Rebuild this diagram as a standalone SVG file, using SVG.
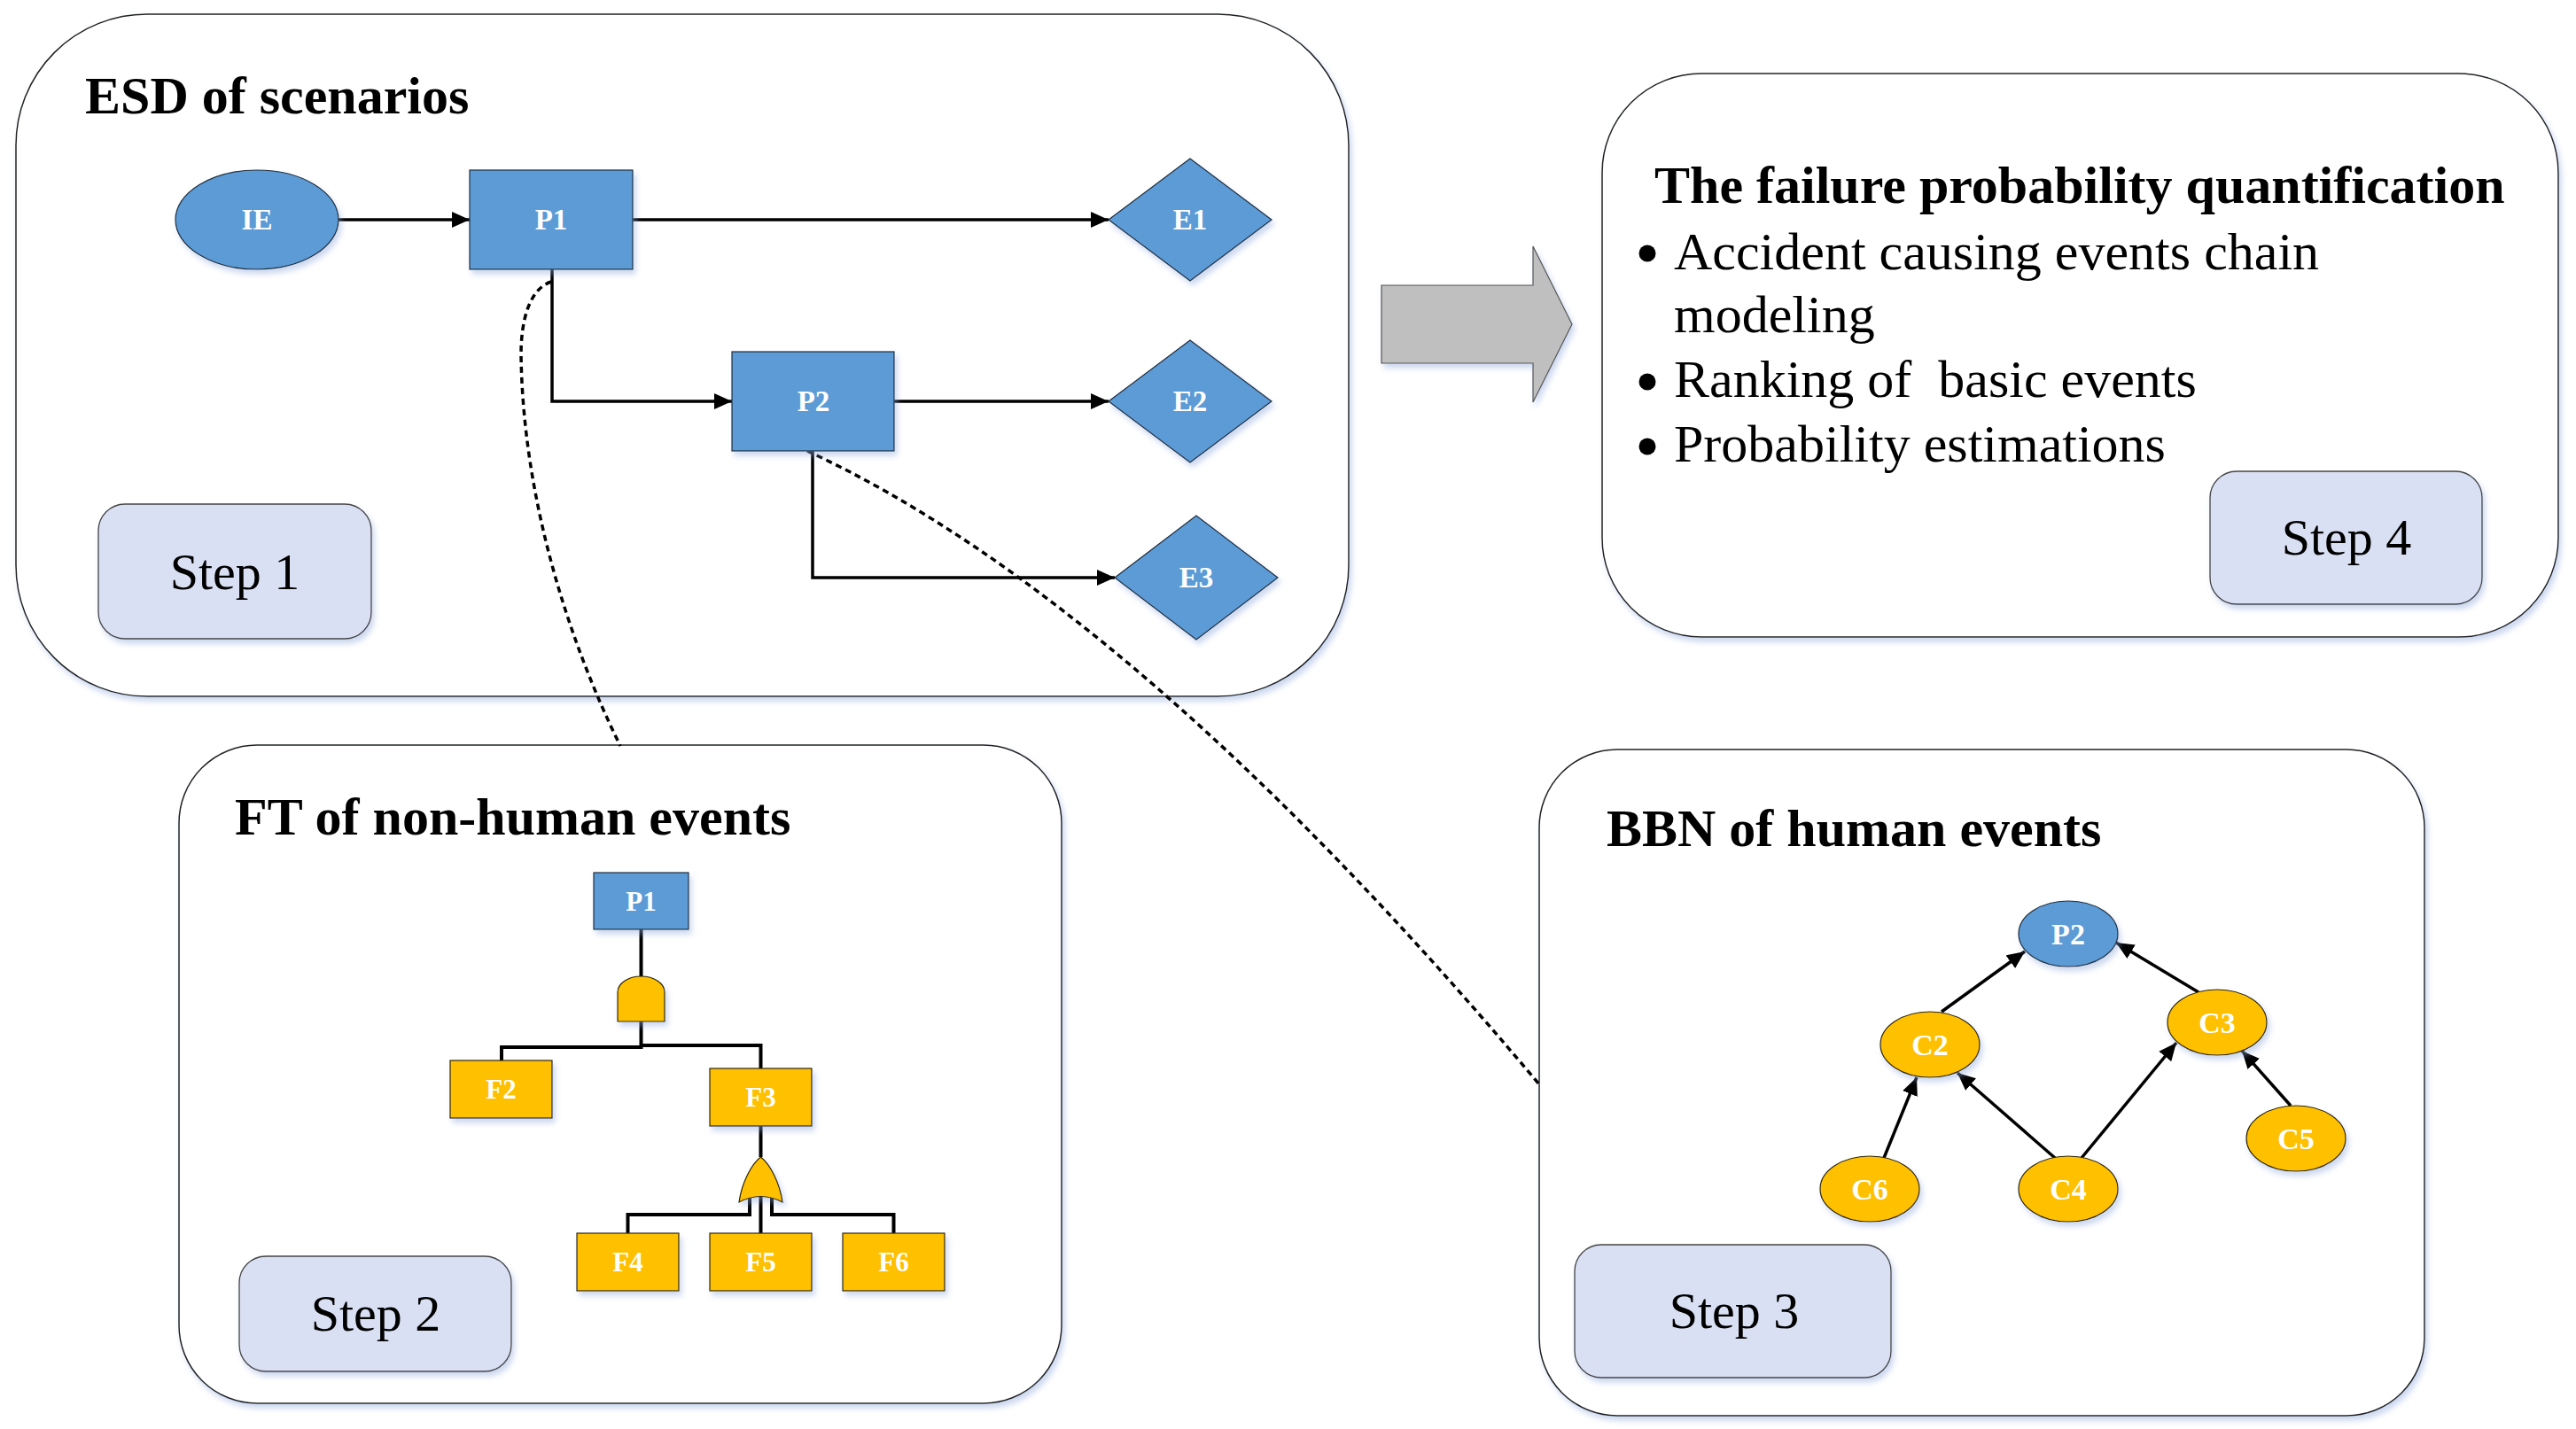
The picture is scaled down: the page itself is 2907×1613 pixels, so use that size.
<svg xmlns="http://www.w3.org/2000/svg" width="2907" height="1613" viewBox="0 0 2907 1613">
<defs>
<filter id="sh" x="-20%" y="-20%" width="140%" height="140%">
<feDropShadow dx="3" dy="5" stdDeviation="3" flood-color="#8faadc" flood-opacity="0.45"/>
</filter>
<marker id="ah" viewBox="0 0 20 18" refX="20" refY="9" markerWidth="20" markerHeight="18" markerUnits="userSpaceOnUse" orient="auto">
<path d="M0 0 L20 9 L0 18 Z" fill="#000"/>
</marker>
</defs>
<style>
.panel{fill:#fff;stroke:#222;stroke-width:1.5;filter:url(#sh)}
.step{fill:#dae0f3;stroke:#444;stroke-width:1.3;filter:url(#sh)}
.blue{fill:#5b9bd5;stroke:#1f2d3d;stroke-width:1.2;filter:url(#sh)}
.gold{fill:#ffc000;stroke:#2d2400;stroke-width:1.2;filter:url(#sh)}
.title{font-family:"Liberation Serif","Times New Roman",serif;font-weight:bold;font-size:60px;fill:#000}
.body{font-family:"Liberation Serif","Times New Roman",serif;font-size:60px;fill:#000}
.steptxt{font-family:"Liberation Serif","Times New Roman",serif;font-size:58px;fill:#000;text-anchor:middle}
.lbl{font-family:"Liberation Serif","Times New Roman",serif;font-weight:bold;font-size:33px;fill:#fff;text-anchor:middle}
.lblb{font-family:"Liberation Serif","Times New Roman",serif;font-weight:bold;font-size:34px;fill:#fff;text-anchor:middle}
.lblf{font-family:"Liberation Serif","Times New Roman",serif;font-weight:bold;font-size:31px;fill:#fff;text-anchor:middle}
.arr{fill:none;stroke:#000;stroke-width:3.5;marker-end:url(#ah)}
.ft{fill:none;stroke:#000;stroke-width:4}
.dash{fill:none;stroke:#000;stroke-width:3.5;stroke-dasharray:7 5}
</style>

<!-- Panels -->
<g id="panel-esd">
<rect class="panel" x="18" y="16" width="1504" height="770" rx="148" ry="148"/>
<text class="title" x="96" y="128">ESD of scenarios</text>
</g>
<g id="panel-quant">
<rect class="panel" x="1808" y="83" width="1079" height="636" rx="112" ry="112"/>
<text class="title" x="1867" y="229">The failure probability quantification</text>
<circle cx="1859" cy="286" r="9.5" fill="#000"/>
<text class="body" x="1889" y="304">Accident causing events chain</text>
<text class="body" x="1889" y="375">modeling</text>
<circle cx="1859" cy="431" r="9.5" fill="#000"/>
<text class="body" x="1889" y="448" style="white-space:pre">Ranking of  basic events</text>
<circle cx="1859" cy="504" r="9.5" fill="#000"/>
<text class="body" x="1889" y="521">Probability estimations</text>
</g>
<g id="panel-ft">
<rect class="panel" x="202" y="841" width="996" height="743" rx="88" ry="88"/>
<text class="title" x="265" y="942">FT of non-human events</text>
</g>
<g id="panel-bbn">
<rect class="panel" x="1737" y="846" width="999" height="752" rx="88" ry="88"/>
<text class="title" x="1813" y="955">BBN of human events</text>
</g>

<!-- Step labels -->
<g id="step1"><rect class="step" x="111" y="569" width="308" height="152" rx="30" ry="30"/><text class="steptxt" x="265" y="665">Step 1</text></g>
<g id="step2"><rect class="step" x="270" y="1418" width="307" height="130" rx="30" ry="30"/><text class="steptxt" x="424" y="1502">Step 2</text></g>
<g id="step3"><rect class="step" x="1777" y="1405" width="357" height="150" rx="30" ry="30"/><text class="steptxt" x="1957" y="1499">Step 3</text></g>
<g id="step4"><rect class="step" x="2494" y="532" width="307" height="150" rx="30" ry="30"/><text class="steptxt" x="2648" y="626">Step 4</text></g>

<!-- Big gray arrow -->
<g id="bigarrow">
<path d="M1559 322 H1730 V278 L1774 366 L1730 454 V410 H1559 Z" fill="#bfbfbf" stroke="#555" stroke-width="1.2" filter="url(#sh)"/>
</g>

<!-- Connectors -->
<g id="connectors">
<path class="arr" d="M381 248 H530"/>
<path class="arr" d="M714 248 H1251"/>
<path class="arr" d="M623 304 V453 H826"/>
<path class="arr" d="M1009 453 H1251"/>
<path class="arr" d="M917 509 V652 H1258"/>
<path class="ft" d="M723.5 1049 V1102"/>
<path class="ft" d="M723.5 1153 V1182 H566 V1197"/>
<path class="ft" d="M723.5 1180 H858.5 V1206"/>
<path class="ft" d="M858.5 1271 V1306"/>
<path class="ft" d="M846 1351 V1371 H708.5 V1392"/>
<path class="ft" d="M858.5 1346 V1392"/>
<path class="ft" d="M871 1351 V1371 H1008.5 V1392"/>
<path class="arr" d="M2191 1142 L2285 1074"/>
<path class="arr" d="M2481 1120 L2388 1064"/>
<path class="arr" d="M2126 1307 L2163 1216"/>
<path class="arr" d="M2319 1307 L2209 1211"/>
<path class="arr" d="M2349 1307 L2456 1177"/>
<path class="arr" d="M2585 1248 L2530 1186"/>
<path class="dash" d="M622 318 C598 326 588 360 588 400 C590 560 640 720 700 842"/>
<path class="dash" d="M911 509 Q1280 680 1737 1224"/>
</g>

<!-- ESD nodes -->
<g id="esd-IE"><ellipse class="blue" cx="290" cy="248" rx="92" ry="56"/><text class="lbl" x="290" y="259">IE</text></g>
<g id="esd-P1"><rect class="blue" x="530" y="192" width="184" height="112"/><text class="lbl" x="622" y="259">P1</text></g>
<g id="esd-P2"><rect class="blue" x="826" y="397" width="183" height="112"/><text class="lbl" x="918" y="464">P2</text></g>
<g id="esd-E1"><polygon class="blue" points="1251,248 1343,179 1435,248 1343,317"/><text class="lbl" x="1343" y="259">E1</text></g>
<g id="esd-E2"><polygon class="blue" points="1251,453 1343,384 1435,453 1343,522"/><text class="lbl" x="1343" y="464">E2</text></g>
<g id="esd-E3"><polygon class="blue" points="1258,652 1350,582 1442,652 1350,722"/><text class="lbl" x="1350" y="663">E3</text></g>

<!-- FT nodes -->
<g id="ft-P1"><rect class="blue" x="670" y="985" width="107" height="64"/><text class="lblf" x="723.5" y="1028">P1</text></g>
<g id="ft-and"><path class="gold" d="M697 1153 V1120 A26.5 18 0 0 1 750 1120 V1153 Z"/></g>
<g id="ft-F2"><rect class="gold" x="508" y="1197" width="115" height="65"/><text class="lblf" x="565.5" y="1240">F2</text></g>
<g id="ft-F3"><rect class="gold" x="801" y="1206" width="115" height="65"/><text class="lblf" x="858.5" y="1249">F3</text></g>
<g id="ft-or"><path class="gold" d="M858.5 1306 C848 1314 837 1335 834 1357 Q858.5 1344 883 1357 C880 1335 869 1314 858.5 1306 Z"/></g>
<g id="ft-F4"><rect class="gold" x="651" y="1392" width="115" height="65"/><text class="lblf" x="708.5" y="1435">F4</text></g>
<g id="ft-F5"><rect class="gold" x="801" y="1392" width="115" height="65"/><text class="lblf" x="858.5" y="1435">F5</text></g>
<g id="ft-F6"><rect class="gold" x="951" y="1392" width="115" height="65"/><text class="lblf" x="1008.5" y="1435">F6</text></g>

<!-- BBN nodes -->
<g id="bbn-P2"><ellipse class="blue" cx="2334" cy="1054" rx="56" ry="37"/><text class="lblb" x="2334" y="1066">P2</text></g>
<g id="bbn-C2"><ellipse class="gold" cx="2178" cy="1179" rx="56" ry="37"/><text class="lblb" x="2178" y="1191">C2</text></g>
<g id="bbn-C3"><ellipse class="gold" cx="2502" cy="1154" rx="56" ry="37"/><text class="lblb" x="2502" y="1166">C3</text></g>
<g id="bbn-C6"><ellipse class="gold" cx="2110" cy="1342" rx="56" ry="37"/><text class="lblb" x="2110" y="1354">C6</text></g>
<g id="bbn-C4"><ellipse class="gold" cx="2334" cy="1342" rx="56" ry="37"/><text class="lblb" x="2334" y="1354">C4</text></g>
<g id="bbn-C5"><ellipse class="gold" cx="2591" cy="1285" rx="56" ry="37"/><text class="lblb" x="2591" y="1297">C5</text></g>
</svg>
